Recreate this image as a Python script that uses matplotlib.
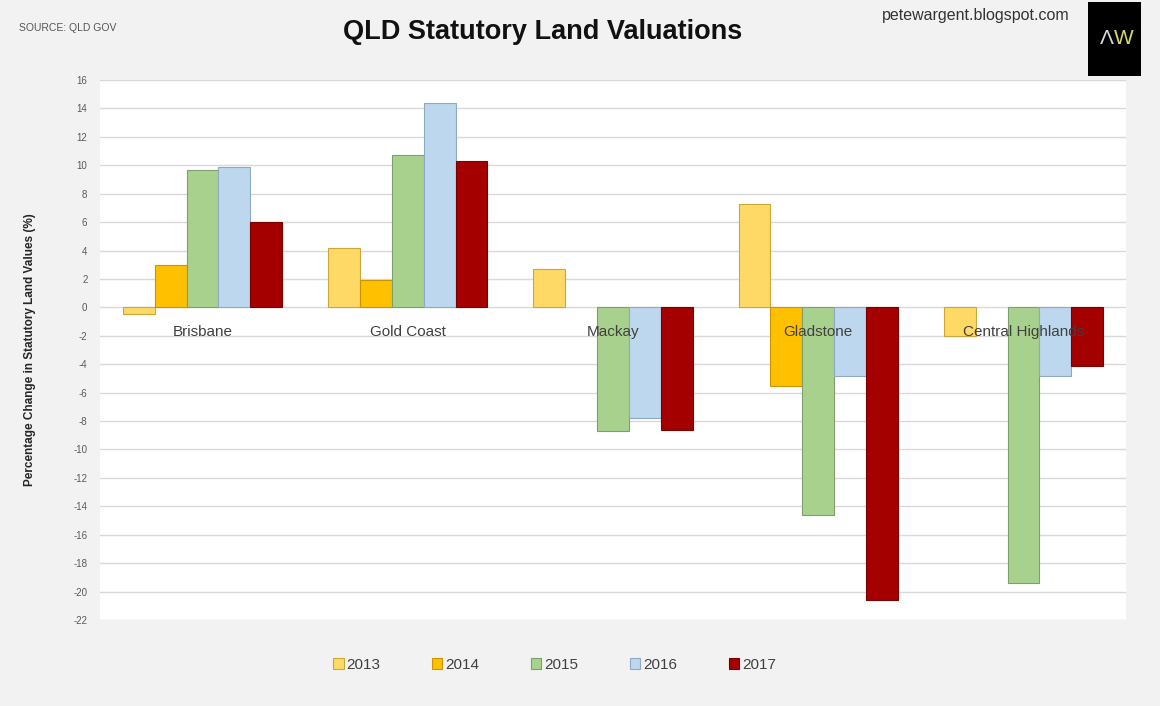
import numpy as np
import matplotlib.pyplot as plt
from matplotlib.patches import Rectangle

plt.rcParams['font.family'] = ['Liberation Sans', 'DejaVu Sans']

# data (% change in statutory land values)
regions = ['Brisbane', 'Gold Coast', 'Mackay', 'Gladstone', 'Central Highlands']
years = ['2013', '2014', '2015', '2016', '2017']
v2013 = [-0.5, 4.2, 2.7, 7.3, -2.0]
v2014 = [3.0, 1.9, np.nan, -5.5, np.nan]
v2015 = [9.7, 10.7, -8.7, -14.6, -19.4]
v2016 = [9.9, 14.4, -7.8, -4.8, -4.8]
v2017 = [6.0, 10.3, -8.6, -20.6, -4.1]
yticks = list(range(-22, 17, 2))

series = [v2013, v2014, v2015, v2016, v2017]
colors = ['#ffd966', '#ffc000', '#a9d18e', '#bdd7ee', '#a50000']
edges = ['#c9a73a', '#c99500', '#7f9f6a', '#8ea9c1', '#7a0000']

fig = plt.figure(figsize=(11.6, 7.06), dpi=100, facecolor='#f2f2f2')
ax = fig.add_axes([0.0862, 0.1218, 0.8845, 0.7649])
ax.set_facecolor('white')

x = np.arange(len(regions))
w = 0.155
for i, (vals, yr) in enumerate(zip(series, years)):
    ax.bar(x + (i - 2) * w, vals, width=w, color=colors[i], edgecolor=edges[i],
           linewidth=0.8, label=yr, zorder=3)

ax.set_xlim(-0.5, len(regions) - 0.5)
ax.set_ylim(-22, 16)
ax.set_yticks(yticks)
ax.set_yticklabels([str(t) for t in yticks], fontsize=7, color='#595959')
ax.set_xticks([])
ax.tick_params(axis='y', length=0, pad=9)
ax.grid(axis='y', color='#d9d9d9', linewidth=1, zorder=0)
for s in ax.spines.values():
    s.set_visible(False)

# category labels sit just below the zero line
for xi, name in zip(x, regions):
    ax.text(xi, -1.75, name, ha='center', va='center', fontsize=11,
            color='#404040', zorder=4)

ax.set_ylabel('Percentage Change in Statutory Land Values (%)', fontsize=8.5,
              fontweight='bold', color='#262626', labelpad=27)

leg = ax.legend(loc='upper center', bbox_to_anchor=(0.443, -0.045), ncol=5,
                frameon=False, fontsize=11, handlelength=0.7, handleheight=0.7,
                handletextpad=0.2, columnspacing=3.35)
for t in leg.get_texts():
    t.set_color('#404040')

fig.text(0.468, 0.955, 'QLD Statutory Land Valuations', ha='center', va='center',
         fontsize=19.5, fontweight='bold', color='#111111')
fig.text(0.016, 0.96, 'SOURCE: QLD GOV', ha='left', va='center', fontsize=7.5,
         color='#555555')
fig.text(0.841, 0.978, 'petewargent.blogspot.com', ha='center', va='center',
         fontsize=11.5, color='#333333')

# AW logo box
fig.patches.append(Rectangle((0.938, 0.893), 0.046, 0.104, transform=fig.transFigure,
                             facecolor='black', edgecolor='none'))
fig.text(0.9545, 0.945, '\u039b', ha='center', va='center', fontsize=15,
         color='#d9d9d9')
fig.text(0.9685, 0.945, 'W', ha='center', va='center', fontsize=15,
         color='#d8d86a')

fig.savefig('out.png', dpi=100, facecolor=fig.get_facecolor())
